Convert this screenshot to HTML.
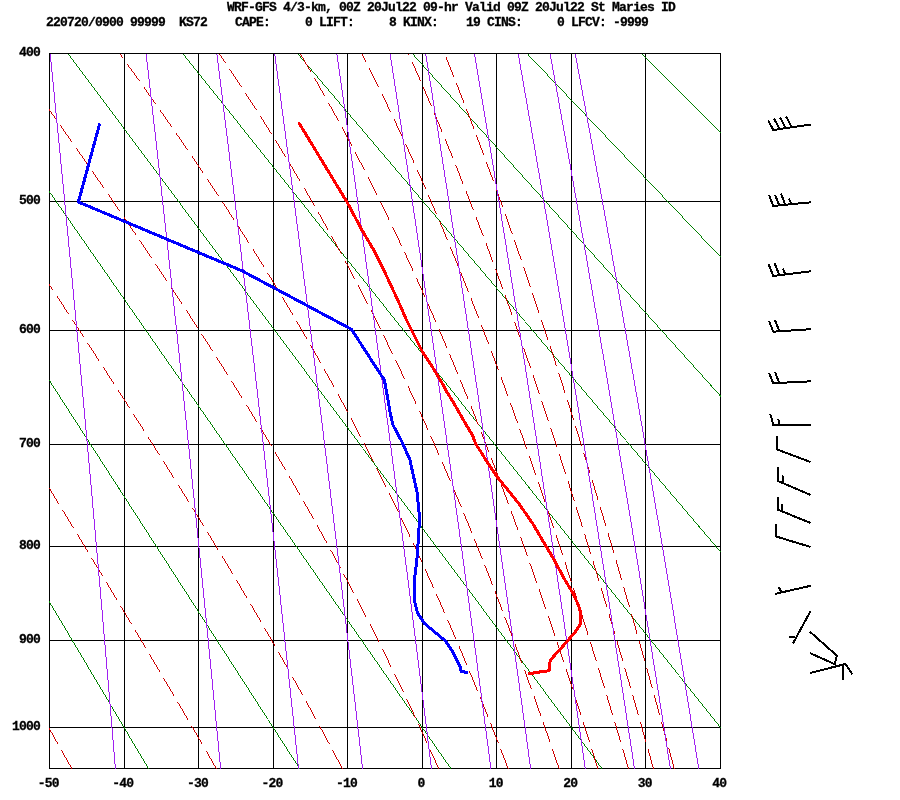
<!DOCTYPE html><html><head><meta charset="utf-8"><style>html,body{margin:0;padding:0;background:#fff;}svg{display:block;will-change:transform}</style></head><body><svg width="900" height="800" viewBox="0 0 900 800"><defs><clipPath id="c"><rect x="49" y="53" width="672" height="716"/></clipPath></defs><rect x="49.5" y="53.5" width="671" height="715" fill="none" stroke="#000" shape-rendering="crispEdges"/><g clip-path="url(#c)" fill="none" shape-rendering="crispEdges" stroke-width="1"><path stroke="#000" d="M124.5,53.5 V768.5 M198.5,53.5 V768.5 M273.5,53.5 V768.5 M347.5,53.5 V768.5 M422.5,53.5 V768.5 M496.5,53.5 V768.5 M571.5,53.5 V768.5 M645.5,53.5 V768.5 M49.5,201.5 H720.5 M49.5,330.5 H720.5 M49.5,444.5 H720.5 M49.5,546.5 H720.5 M49.5,640.5 H720.5 M49.5,727.5 H720.5"/><path fill="#008000" stroke="none" d="M-3.25,768.58 L-391.57,53.5 L-390.57,53.5 L-2.25,768.58Z M147.96,768.58 L-276.81,53.5 L-275.81,53.5 L148.96,768.58Z M299.16,768.58 L-162.04,53.5 L-161.04,53.5 L300.16,768.58Z M450.36,768.58 L-47.27,53.5 L-46.27,53.5 L451.36,768.58Z M601.57,768.58 L67.5,53.5 L68.5,53.5 L602.57,768.58Z M752.77,768.58 L182.26,53.5 L183.26,53.5 L753.77,768.58Z M903.98,768.58 L297.03,53.5 L298.03,53.5 L904.98,768.58Z M1055.18,768.58 L411.8,53.5 L412.8,53.5 L1056.18,768.58Z M1206.38,768.58 L526.57,53.5 L527.57,53.5 L1207.38,768.58Z M1358.09,768.08 L641.83,53 L641.83,54 L1358.09,769.08Z M1509.29,768.08 L756.6,53 L756.6,54 L1509.29,769.08Z"/><path fill="#cd0000" stroke="none" d="M71.25,768.58 L69.21,764.95 L67.18,761.32 L65.14,757.69 L63.1,754.06 L61.07,750.44 L62.07,750.44 L64.1,754.06 L66.14,757.69 L68.18,761.32 L70.21,764.95 L72.25,768.58Z M57.57,744.2 L55.53,740.58 L53.49,736.95 L51.45,733.32 L49.41,729.7 L47.37,726.07 L48.37,726.07 L50.41,729.7 L52.45,733.32 L54.49,736.95 L56.53,740.58 L58.57,744.2Z M215.76,768.58 L213.69,764.97 L211.61,761.36 L209.54,757.76 L207.46,754.15 L205.38,750.55 L206.38,750.55 L208.46,754.15 L210.54,757.76 L212.61,761.36 L214.69,764.97 L216.76,768.58Z M201.81,744.36 L199.72,740.76 L197.63,737.16 L195.55,733.56 L193.46,729.96 L191.36,726.37 L192.36,726.37 L194.46,729.96 L196.55,733.56 L198.63,737.16 L200.72,740.76 L202.81,744.36Z M187.77,720.19 L185.67,716.6 L183.57,713.01 L181.47,709.41 L179.37,705.82 L177.27,702.24 L178.27,702.24 L180.37,705.82 L182.47,709.41 L184.57,713.01 L186.67,716.6 L188.77,720.19Z M173.65,696.07 L171.54,692.48 L169.43,688.9 L167.32,685.31 L165.2,681.73 L163.09,678.15 L164.09,678.15 L166.2,681.73 L168.32,685.31 L170.43,688.9 L172.54,692.48 L174.65,696.07Z M159.45,671.99 L157.34,668.41 L155.22,664.83 L153.09,661.25 L150.97,657.67 L148.85,654.1 L149.85,654.1 L151.97,657.67 L154.09,661.25 L156.22,664.83 L158.34,668.41 L160.45,671.99Z M145.2,647.95 L143.07,644.38 L140.94,640.8 L138.81,637.23 L136.68,633.66 L134.55,630.08 L135.55,630.08 L137.68,633.66 L139.81,637.23 L141.94,640.8 L144.07,644.38 L146.2,647.95Z M130.88,623.95 L128.74,620.38 L126.61,616.81 L124.47,613.24 L122.33,609.67 L120.19,606.1 L121.19,606.1 L123.33,609.67 L125.47,613.24 L127.61,616.81 L129.74,620.38 L131.88,623.95Z M116.51,599.97 L114.36,596.41 L112.22,592.84 L110.07,589.28 L107.93,585.72 L105.78,582.15 L106.78,582.15 L108.93,585.72 L111.07,589.28 L113.22,592.84 L115.36,596.41 L117.51,599.97Z M102.09,576.03 L99.94,572.47 L97.79,568.91 L95.64,565.35 L93.48,561.79 L91.33,558.23 L92.33,558.23 L94.48,561.79 L96.64,565.35 L98.79,568.91 L100.94,572.47 L103.09,576.03Z M87.63,552.11 L85.47,548.55 L83.32,545 L81.16,541.44 L79,537.88 L76.84,534.33 L77.84,534.33 L80,537.88 L82.16,541.44 L84.32,545 L86.47,548.55 L88.63,552.11Z M73.13,528.22 L70.97,524.66 L68.81,521.11 L66.65,517.55 L64.48,514 L62.32,510.45 L63.32,510.45 L65.48,514 L67.65,517.55 L69.81,521.11 L71.97,524.66 L74.13,528.22Z M58.6,504.34 L56.43,500.79 L54.27,497.24 L52.1,493.68 L49.93,490.13 L47.77,486.58 L48.77,486.58 L50.93,490.13 L53.1,493.68 L55.27,497.24 L57.43,500.79 L59.6,504.34Z M341.8,768.58 L339.87,764.89 L337.93,761.21 L335.98,757.54 L334.03,753.86 L332.08,750.19 L333.08,750.19 L335.03,753.86 L336.98,757.54 L338.93,761.21 L340.87,764.89 L342.8,768.58Z M328.71,743.88 L326.75,740.21 L324.78,736.55 L322.81,732.89 L320.83,729.23 L318.85,725.57 L319.85,725.57 L321.83,729.23 L323.81,732.89 L325.78,736.55 L327.75,740.21 L329.71,743.88Z M315.43,719.29 L313.44,715.64 L311.44,711.99 L309.44,708.34 L307.44,704.69 L305.43,701.05 L306.43,701.05 L308.44,704.69 L310.44,708.34 L312.44,711.99 L314.44,715.64 L316.43,719.29Z M301.97,694.8 L299.95,691.16 L297.92,687.52 L295.9,683.89 L293.87,680.26 L291.83,676.63 L292.83,676.63 L294.87,680.26 L296.9,683.89 L298.92,687.52 L300.95,691.16 L302.97,694.8Z M288.32,670.4 L286.28,666.78 L284.23,663.16 L282.17,659.54 L280.12,655.93 L278.06,652.31 L279.06,652.31 L281.12,655.93 L283.17,659.54 L285.23,663.16 L287.28,666.78 L289.32,670.4Z M274.51,646.11 L272.44,642.5 L270.36,638.89 L268.28,635.29 L266.2,631.69 L264.12,628.09 L265.12,628.09 L267.2,631.69 L269.28,635.29 L271.36,638.89 L273.44,642.5 L275.51,646.11Z M260.52,621.91 L258.43,618.31 L256.33,614.72 L254.23,611.13 L252.13,607.54 L250.02,603.95 L251.02,603.95 L253.13,607.54 L255.23,611.13 L257.33,614.72 L259.43,618.31 L261.52,621.91Z M246.39,597.79 L244.27,594.21 L242.15,590.63 L240.03,587.06 L237.9,583.48 L235.77,579.91 L236.77,579.91 L238.9,583.48 L241.03,587.06 L243.15,590.63 L245.27,594.21 L247.39,597.79Z M232.1,573.77 L229.97,570.2 L227.82,566.63 L225.68,563.07 L223.53,559.51 L221.38,555.94 L222.38,555.94 L224.53,559.51 L226.68,563.07 L228.82,566.63 L230.97,570.2 L233.1,573.77Z M217.68,549.83 L215.52,546.27 L213.36,542.72 L211.2,539.16 L209.04,535.61 L206.87,532.06 L207.87,532.06 L210.04,535.61 L212.2,539.16 L214.36,542.72 L216.52,546.27 L218.68,549.83Z M203.13,525.96 L200.96,522.42 L198.78,518.87 L196.6,515.33 L194.41,511.79 L192.23,508.25 L193.23,508.25 L195.41,511.79 L197.6,515.33 L199.78,518.87 L201.96,522.42 L204.13,525.96Z M188.47,502.17 L186.27,498.64 L184.08,495.1 L181.88,491.57 L179.68,488.04 L177.48,484.51 L178.48,484.51 L180.68,488.04 L182.88,491.57 L185.08,495.1 L187.27,498.64 L189.47,502.17Z M173.69,478.45 L171.48,474.92 L169.27,471.4 L167.06,467.87 L164.85,464.35 L162.63,460.83 L163.63,460.83 L165.85,464.35 L168.06,467.87 L170.27,471.4 L172.48,474.92 L174.69,478.45Z M158.82,454.78 L156.59,451.26 L154.37,447.75 L152.15,444.23 L149.92,440.72 L147.69,437.21 L148.69,437.21 L150.92,440.72 L153.15,444.23 L155.37,447.75 L157.59,451.26 L159.82,454.78Z M143.85,431.17 L141.62,427.67 L139.38,424.16 L137.14,420.65 L134.9,417.15 L132.66,413.64 L133.66,413.64 L135.9,417.15 L138.14,420.65 L140.38,424.16 L142.62,427.67 L144.85,431.17Z M128.81,407.62 L126.56,404.12 L124.32,400.62 L122.07,397.12 L119.82,393.62 L117.57,390.12 L118.57,390.12 L120.82,393.62 L123.07,397.12 L125.32,400.62 L127.56,404.12 L129.81,407.62Z M113.69,384.11 L111.44,380.61 L109.18,377.12 L106.92,373.63 L104.66,370.13 L102.4,366.64 L103.4,366.64 L105.66,370.13 L107.92,373.63 L110.18,377.12 L112.44,380.61 L114.69,384.11Z M98.51,360.64 L96.25,357.15 L93.98,353.66 L91.71,350.17 L89.45,346.69 L87.18,343.2 L88.18,343.2 L90.45,346.69 L92.71,350.17 L94.98,353.66 L97.25,357.15 L99.51,360.64Z M83.27,337.21 L81,333.73 L78.73,330.24 L76.45,326.76 L74.18,323.28 L71.9,319.79 L72.9,319.79 L75.18,323.28 L77.45,326.76 L79.73,330.24 L82,333.73 L84.27,337.21Z M67.99,313.81 L65.71,310.33 L63.43,306.85 L61.15,303.37 L58.87,299.89 L56.58,296.42 L57.58,296.42 L59.87,299.89 L62.15,303.37 L64.43,306.85 L66.71,310.33 L68.99,313.81Z M52.66,290.44 L50.37,286.96 L48.09,283.49 L45.8,280.01 L43.51,276.54 L41.22,273.06 L42.22,273.06 L44.51,276.54 L46.8,280.01 L49.09,283.49 L51.37,286.96 L53.66,290.44Z M438.19,768.58 L436.49,764.78 L434.79,760.98 L433.09,757.19 L431.37,753.4 L429.66,749.61 L430.66,749.61 L432.37,753.4 L434.09,757.19 L435.79,760.98 L437.49,764.78 L439.19,768.58Z M426.69,743.1 L424.96,739.32 L423.23,735.54 L421.49,731.76 L419.75,727.98 L418,724.21 L419,724.21 L420.75,727.98 L422.49,731.76 L424.23,735.54 L425.96,739.32 L427.69,743.1Z M414.98,717.73 L413.21,713.96 L411.45,710.19 L409.67,706.43 L407.89,702.67 L406.11,698.91 L407.11,698.91 L408.89,702.67 L410.67,706.43 L412.45,710.19 L414.21,713.96 L415.98,717.73Z M403.04,692.46 L401.24,688.7 L399.44,684.95 L397.63,681.21 L395.82,677.46 L394,673.72 L395,673.72 L396.82,677.46 L398.63,681.21 L400.44,684.95 L402.24,688.7 L404.04,692.46Z M390.86,667.29 L389.03,663.56 L387.2,659.83 L385.36,656.1 L383.51,652.37 L381.66,648.64 L382.66,648.64 L384.51,652.37 L386.36,656.1 L388.2,659.83 L390.03,663.56 L391.86,667.29Z M378.46,642.25 L376.6,638.53 L374.73,634.81 L372.85,631.1 L370.97,627.39 L369.08,623.68 L370.08,623.68 L371.97,627.39 L373.85,631.1 L375.73,634.81 L377.6,638.53 L379.46,642.25Z M365.83,617.32 L363.93,613.61 L362.02,609.92 L360.11,606.22 L358.2,602.53 L356.28,598.84 L357.28,598.84 L359.2,602.53 L361.11,606.22 L363.02,609.92 L364.93,613.61 L366.83,617.32Z M352.96,592.5 L351.03,588.82 L349.09,585.14 L347.14,581.46 L345.19,577.79 L343.23,574.12 L344.23,574.12 L346.19,577.79 L348.14,581.46 L350.09,585.14 L352.03,588.82 L353.96,592.5Z M339.86,567.81 L337.89,564.15 L335.92,560.49 L333.94,556.83 L331.95,553.17 L329.96,549.52 L330.96,549.52 L332.95,553.17 L334.94,556.83 L336.92,560.49 L338.89,564.15 L340.86,567.81Z M326.53,543.25 L324.52,539.6 L322.51,535.96 L320.5,532.32 L318.48,528.68 L316.46,525.05 L317.46,525.05 L319.48,528.68 L321.5,532.32 L323.51,535.96 L325.52,539.6 L327.53,543.25Z M312.97,518.81 L310.93,515.18 L308.89,511.56 L306.84,507.94 L304.79,504.32 L302.73,500.7 L303.73,500.7 L305.79,504.32 L307.84,507.94 L309.89,511.56 L311.93,515.18 L313.97,518.81Z M299.18,494.5 L297.11,490.89 L295.04,487.28 L292.96,483.68 L290.87,480.08 L288.78,476.48 L289.78,476.48 L291.87,480.08 L293.96,483.68 L296.04,487.28 L298.11,490.89 L300.18,494.5Z M285.18,470.31 L283.08,466.72 L280.97,463.13 L278.86,459.54 L276.74,455.96 L274.62,452.38 L275.62,452.38 L277.74,455.96 L279.86,459.54 L281.97,463.13 L284.08,466.72 L286.18,470.31Z M270.97,446.24 L268.83,442.67 L266.7,439.1 L264.55,435.53 L262.41,431.97 L260.26,428.41 L261.26,428.41 L263.41,431.97 L265.55,435.53 L267.7,439.1 L269.83,442.67 L271.97,446.24Z M256.55,422.29 L254.39,418.74 L252.22,415.19 L250.05,411.64 L247.88,408.09 L245.7,404.55 L246.7,404.55 L248.88,408.09 L251.05,411.64 L253.22,415.19 L255.39,418.74 L257.55,422.29Z M241.94,398.47 L239.75,394.93 L237.56,391.4 L235.36,387.86 L233.16,384.33 L230.95,380.81 L231.95,380.81 L234.16,384.33 L236.36,387.86 L238.56,391.4 L240.75,394.93 L242.94,398.47Z M227.15,374.75 L224.93,371.23 L222.71,367.71 L220.49,364.2 L218.26,360.68 L216.03,357.17 L217.03,357.17 L219.26,360.68 L221.49,364.2 L223.71,367.71 L225.93,371.23 L228.15,374.75Z M212.19,351.14 L209.95,347.64 L207.7,344.14 L205.45,340.64 L203.2,337.14 L200.95,333.64 L201.95,333.64 L204.2,337.14 L206.45,340.64 L208.7,344.14 L210.95,347.64 L213.19,351.14Z M197.06,327.64 L194.8,324.15 L192.53,320.66 L190.26,317.18 L187.99,313.69 L185.71,310.21 L186.71,310.21 L188.99,313.69 L191.26,317.18 L193.53,320.66 L195.8,324.15 L198.06,327.64Z M181.79,304.23 L179.51,300.75 L177.22,297.28 L174.93,293.81 L172.63,290.34 L170.34,286.87 L171.34,286.87 L173.63,290.34 L175.93,293.81 L178.22,297.28 L180.51,300.75 L182.79,304.23Z M166.38,280.91 L164.08,277.45 L161.77,273.98 L159.46,270.52 L157.15,267.07 L154.84,263.61 L155.84,263.61 L158.15,267.07 L160.46,270.52 L162.77,273.98 L165.08,277.45 L167.38,280.91Z M150.85,257.67 L148.53,254.22 L146.21,250.77 L143.88,247.32 L141.55,243.87 L139.22,240.43 L140.22,240.43 L142.55,243.87 L144.88,247.32 L147.21,250.77 L149.53,254.22 L151.85,257.67Z M135.21,234.51 L132.88,231.07 L130.54,227.63 L128.2,224.19 L125.85,220.75 L123.51,217.32 L124.51,217.32 L126.85,220.75 L129.2,224.19 L131.54,227.63 L133.88,231.07 L136.21,234.51Z M119.47,211.41 L117.12,207.98 L114.77,204.55 L112.41,201.12 L110.06,197.69 L107.7,194.27 L108.7,194.27 L111.06,197.69 L113.41,201.12 L115.77,204.55 L118.12,207.98 L120.47,211.41Z M103.64,188.38 L101.28,184.96 L98.91,181.53 L96.54,178.11 L94.18,174.69 L91.81,171.27 L92.81,171.27 L95.18,174.69 L97.54,178.11 L99.91,181.53 L102.28,184.96 L104.64,188.38Z M87.73,165.4 L85.36,161.98 L82.98,158.57 L80.6,155.15 L78.22,151.74 L75.84,148.33 L76.84,148.33 L79.22,151.74 L81.6,155.15 L83.98,158.57 L86.36,161.98 L88.73,165.4Z M71.75,142.47 L69.37,139.06 L66.98,135.65 L64.6,132.24 L62.21,128.83 L59.82,125.43 L60.82,125.43 L63.21,128.83 L65.6,132.24 L67.98,135.65 L70.37,139.06 L72.75,142.47Z M55.71,119.58 L53.32,116.17 L50.93,112.77 L48.53,109.37 L46.14,105.97 L43.74,102.57 L44.74,102.57 L47.14,105.97 L49.53,109.37 L51.93,112.77 L54.32,116.17 L56.71,119.58Z M507.67,768.58 L506.19,764.69 L504.69,760.81 L503.2,756.93 L501.7,753.05 L500.2,749.17 L501.2,749.17 L502.7,753.05 L504.2,756.93 L505.69,760.81 L507.19,764.69 L508.67,768.58Z M497.6,742.5 L496.09,738.63 L494.57,734.76 L493.05,730.89 L491.52,727.02 L489.99,723.15 L490.99,723.15 L492.52,727.02 L494.05,730.89 L495.57,734.76 L497.09,738.63 L498.6,742.5Z M487.35,716.5 L485.8,712.64 L484.26,708.78 L482.71,704.92 L481.15,701.06 L479.59,697.2 L480.59,697.2 L482.15,701.06 L483.71,704.92 L485.26,708.78 L486.8,712.64 L488.35,716.5Z M476.9,690.58 L475.33,686.73 L473.75,682.88 L472.17,679.03 L470.58,675.19 L468.99,671.34 L469.99,671.34 L471.58,675.19 L473.17,679.03 L474.75,682.88 L476.33,686.73 L477.9,690.58Z M466.25,664.74 L464.65,660.9 L463.04,657.06 L461.43,653.23 L459.81,649.4 L458.19,645.56 L459.19,645.56 L460.81,649.4 L462.43,653.23 L464.04,657.06 L465.65,660.9 L467.25,664.74Z M455.39,638.98 L453.75,635.16 L452.12,631.34 L450.47,627.51 L448.82,623.7 L447.17,619.88 L448.17,619.88 L449.82,623.7 L451.47,627.51 L453.12,631.34 L454.75,635.16 L456.39,638.98Z M444.31,613.32 L442.65,609.51 L440.97,605.7 L439.3,601.9 L437.61,598.09 L435.93,594.29 L436.93,594.29 L438.61,598.09 L440.3,601.9 L441.97,605.7 L443.65,609.51 L445.31,613.32Z M433.02,587.76 L431.31,583.96 L429.61,580.17 L427.9,576.38 L426.18,572.59 L424.46,568.8 L425.46,568.8 L427.18,572.59 L428.9,576.38 L430.61,580.17 L432.31,583.96 L434.02,587.76Z M421.48,562.3 L419.75,558.52 L418.01,554.74 L416.26,550.96 L414.51,547.19 L412.75,543.42 L413.75,543.42 L415.51,547.19 L417.26,550.96 L419.01,554.74 L420.75,558.52 L422.48,562.3Z M409.72,536.95 L407.94,533.18 L406.17,529.42 L404.38,525.66 L402.59,521.91 L400.8,518.15 L401.8,518.15 L403.59,521.91 L405.38,525.66 L407.17,529.42 L408.94,533.18 L410.72,536.95Z M397.7,511.71 L395.89,507.96 L394.08,504.22 L392.26,500.48 L390.43,496.74 L388.6,493.01 L389.6,493.01 L391.43,496.74 L393.26,500.48 L395.08,504.22 L396.89,507.96 L398.7,511.71Z M385.44,486.59 L383.59,482.87 L381.74,479.14 L379.88,475.42 L378.01,471.7 L376.14,467.99 L377.14,467.99 L379.01,471.7 L380.88,475.42 L382.74,479.14 L384.59,482.87 L386.44,486.59Z M372.92,461.61 L371.03,457.9 L369.14,454.19 L367.24,450.49 L365.34,446.79 L363.43,443.1 L364.43,443.1 L366.34,446.79 L368.24,450.49 L370.14,454.19 L372.03,457.9 L373.92,461.61Z M360.14,436.75 L358.21,433.06 L356.28,429.38 L354.34,425.7 L352.4,422.02 L350.45,418.34 L351.45,418.34 L353.4,422.02 L355.34,425.7 L357.28,429.38 L359.21,433.06 L361.14,436.75Z M347.09,412.03 L345.13,408.36 L343.16,404.7 L341.18,401.04 L339.2,397.38 L337.21,393.73 L338.21,393.73 L340.2,397.38 L342.18,401.04 L344.16,404.7 L346.13,408.36 L348.09,412.03Z M333.78,387.45 L331.78,383.81 L329.77,380.16 L327.75,376.53 L325.73,372.89 L323.71,369.26 L324.71,369.26 L326.73,372.89 L328.75,376.53 L330.77,380.16 L332.78,383.81 L334.78,387.45Z M320.21,363.02 L318.17,359.4 L316.12,355.78 L314.06,352.16 L312,348.54 L309.94,344.93 L310.94,344.93 L313,348.54 L315.06,352.16 L317.12,355.78 L319.17,359.4 L321.21,363.02Z M306.37,338.74 L304.29,335.13 L302.2,331.54 L300.11,327.94 L298.01,324.35 L295.91,320.76 L296.91,320.76 L299.01,324.35 L301.11,327.94 L303.2,331.54 L305.29,335.13 L307.37,338.74Z M292.27,314.6 L290.15,311.02 L288.03,307.45 L285.9,303.87 L283.76,300.3 L281.62,296.74 L282.62,296.74 L284.76,300.3 L286.9,303.87 L289.03,307.45 L291.15,311.02 L293.27,314.6Z M277.92,290.62 L275.77,287.06 L273.6,283.51 L271.43,279.96 L269.26,276.41 L267.08,272.87 L268.08,272.87 L270.26,276.41 L272.43,279.96 L274.6,283.51 L276.77,287.06 L278.92,290.62Z M263.32,266.78 L261.13,263.25 L258.93,259.72 L256.73,256.19 L254.52,252.67 L252.3,249.14 L253.3,249.14 L255.52,252.67 L257.73,256.19 L259.93,259.72 L262.13,263.25 L264.32,266.78Z M248.48,243.1 L246.25,239.59 L244.02,236.08 L241.78,232.57 L239.54,229.07 L237.29,225.57 L238.29,225.57 L240.54,229.07 L242.78,232.57 L245.02,236.08 L247.25,239.59 L249.48,243.1Z M233.41,219.56 L231.15,216.07 L228.89,212.58 L226.62,209.09 L224.34,205.61 L222.06,202.13 L223.06,202.13 L225.34,205.61 L227.62,209.09 L229.89,212.58 L232.15,216.07 L234.41,219.56Z M218.13,196.16 L215.84,192.69 L213.54,189.22 L211.24,185.76 L208.93,182.29 L206.62,178.83 L207.62,178.83 L209.93,182.29 L212.24,185.76 L214.54,189.22 L216.84,192.69 L219.13,196.16Z M202.64,172.89 L200.32,169.44 L197.99,165.99 L195.66,162.55 L193.33,159.11 L190.99,155.66 L191.99,155.66 L194.33,159.11 L196.66,162.55 L198.99,165.99 L201.32,169.44 L203.64,172.89Z M186.96,149.76 L184.61,146.32 L182.26,142.89 L179.9,139.47 L177.54,136.04 L175.17,132.62 L176.17,132.62 L178.54,136.04 L180.9,139.47 L183.26,142.89 L185.61,146.32 L187.96,149.76Z M171.1,126.74 L168.73,123.33 L166.35,119.91 L163.97,116.5 L161.58,113.09 L159.2,109.69 L160.2,109.69 L162.58,113.09 L164.97,116.5 L167.35,119.91 L169.73,123.33 L172.1,126.74Z M155.08,103.84 L152.69,100.44 L150.29,97.04 L147.88,93.64 L145.48,90.25 L143.07,86.86 L144.07,86.86 L146.48,90.25 L148.88,93.64 L151.29,97.04 L153.69,100.44 L156.08,103.84Z M138.92,81.04 L136.5,77.65 L134.08,74.27 L131.66,70.88 L129.23,67.51 L126.8,64.13 L127.8,64.13 L130.23,67.51 L132.66,70.88 L135.08,74.27 L137.5,77.65 L139.92,81.04Z M122.62,58.33 L119.13,53.5 L120.13,53.5 L123.62,58.33Z M558.58,768.58 L557.24,764.64 L555.9,760.7 L554.55,756.76 L553.21,752.83 L551.85,748.89 L552.85,748.89 L554.21,752.83 L555.55,756.76 L556.9,760.7 L558.24,764.64 L559.58,768.58Z M549.52,742.13 L548.16,738.2 L546.8,734.27 L545.43,730.34 L544.06,726.42 L542.69,722.49 L543.69,722.49 L545.06,726.42 L546.43,730.34 L547.8,734.27 L549.16,738.2 L550.52,742.13Z M540.32,715.74 L538.94,711.82 L537.56,707.9 L536.17,703.97 L534.78,700.05 L533.38,696.13 L534.38,696.13 L535.78,700.05 L537.17,703.97 L538.56,707.9 L539.94,711.82 L541.32,715.74Z M530.97,689.4 L529.57,685.49 L528.16,681.57 L526.75,677.66 L525.33,673.75 L523.91,669.84 L524.91,669.84 L526.33,673.75 L527.75,677.66 L529.16,681.57 L530.57,685.49 L531.97,689.4Z M521.46,663.12 L520.03,659.21 L518.6,655.31 L517.17,651.4 L515.72,647.5 L514.28,643.6 L515.28,643.6 L516.72,647.5 L518.17,651.4 L519.6,655.31 L521.03,659.21 L522.46,663.12Z M511.79,636.9 L510.33,633 L508.88,629.1 L507.41,625.21 L505.95,621.32 L504.48,617.43 L505.48,617.43 L506.95,621.32 L508.41,625.21 L509.88,629.1 L511.33,633 L512.79,636.9Z M501.94,610.74 L500.46,606.85 L498.98,602.97 L497.49,599.08 L495.99,595.2 L494.5,591.32 L495.5,591.32 L496.99,595.2 L498.49,599.08 L499.98,602.97 L501.46,606.85 L502.94,610.74Z M491.91,584.65 L490.4,580.77 L488.89,576.9 L487.37,573.03 L485.85,569.15 L484.33,565.28 L485.33,565.28 L486.85,569.15 L488.37,573.03 L489.89,576.9 L491.4,580.77 L492.91,584.65Z M481.69,558.64 L480.16,554.77 L478.62,550.91 L477.07,547.05 L475.52,543.19 L473.96,539.33 L474.96,539.33 L476.52,543.19 L478.07,547.05 L479.62,550.91 L481.16,554.77 L482.69,558.64Z M471.28,532.7 L469.71,528.85 L468.14,524.99 L466.56,521.15 L464.98,517.3 L463.39,513.45 L464.39,513.45 L465.98,517.3 L467.56,521.15 L469.14,524.99 L470.71,528.85 L472.28,532.7Z M460.66,506.85 L459.06,503.01 L457.45,499.17 L455.84,495.33 L454.23,491.5 L452.61,487.67 L453.61,487.67 L455.23,491.5 L456.84,495.33 L458.45,499.17 L460.06,503.01 L461.66,506.85Z M449.82,481.08 L448.18,477.26 L446.55,473.43 L444.91,469.61 L443.26,465.79 L441.61,461.97 L442.61,461.97 L444.26,465.79 L445.91,469.61 L447.55,473.43 L449.18,477.26 L450.82,481.08Z M438.75,455.42 L437.09,451.61 L435.42,447.8 L433.74,443.99 L432.06,440.18 L430.37,436.38 L431.37,436.38 L433.06,440.18 L434.74,443.99 L436.42,447.8 L438.09,451.61 L439.75,455.42Z M427.46,429.85 L425.75,426.06 L424.05,422.26 L422.33,418.47 L420.61,414.68 L418.89,410.9 L419.89,410.9 L421.61,414.68 L423.33,418.47 L425.05,422.26 L426.75,426.06 L428.46,429.85Z M415.91,404.4 L414.18,400.62 L412.43,396.84 L410.68,393.07 L408.92,389.3 L407.16,385.53 L408.16,385.53 L409.92,389.3 L411.68,393.07 L413.43,396.84 L415.18,400.62 L416.91,404.4Z M404.12,379.06 L402.34,375.3 L400.56,371.54 L398.77,367.78 L396.98,364.03 L395.17,360.28 L396.17,360.28 L397.98,364.03 L399.77,367.78 L401.56,371.54 L403.34,375.3 L405.12,379.06Z M392.06,353.84 L390.25,350.1 L388.42,346.36 L386.6,342.62 L384.76,338.89 L382.92,335.16 L383.92,335.16 L385.76,338.89 L387.6,342.62 L389.42,346.36 L391.25,350.1 L393.06,353.84Z M379.74,328.76 L377.88,325.03 L376.02,321.31 L374.15,317.6 L372.27,313.89 L370.39,310.18 L371.39,310.18 L373.27,313.89 L375.15,317.6 L377.02,321.31 L378.88,325.03 L380.74,328.76Z M367.14,303.81 L365.24,300.11 L363.33,296.41 L361.42,292.72 L359.5,289.02 L357.57,285.34 L358.57,285.34 L360.5,289.02 L362.42,292.72 L364.33,296.41 L366.24,300.11 L368.14,303.81Z M354.25,279.01 L352.31,275.33 L350.36,271.65 L348.4,267.98 L346.44,264.31 L344.47,260.65 L345.47,260.65 L347.44,264.31 L349.4,267.98 L351.36,271.65 L353.31,275.33 L355.25,279.01Z M341.07,254.36 L339.09,250.7 L337.09,247.05 L335.1,243.4 L333.09,239.76 L331.08,236.12 L332.08,236.12 L334.09,239.76 L336.1,243.4 L338.09,247.05 L340.09,250.7 L342.07,254.36Z M327.6,229.87 L325.57,226.24 L323.54,222.61 L321.49,218.99 L319.44,215.37 L317.39,211.75 L318.39,211.75 L320.44,215.37 L322.49,218.99 L324.54,222.61 L326.57,226.24 L328.6,229.87Z M313.84,205.54 L311.76,201.94 L309.68,198.34 L307.59,194.74 L305.5,191.14 L303.4,187.55 L304.4,187.55 L306.5,191.14 L308.59,194.74 L310.68,198.34 L312.76,201.94 L314.84,205.54Z M299.77,181.39 L297.66,177.81 L295.53,174.23 L293.4,170.66 L291.26,167.09 L289.12,163.53 L290.12,163.53 L292.26,167.09 L294.4,170.66 L296.53,174.23 L298.66,177.81 L300.77,181.39Z M285.42,157.41 L283.25,153.85 L281.09,150.3 L278.91,146.76 L276.73,143.22 L274.54,139.68 L275.54,139.68 L277.73,143.22 L279.91,146.76 L282.09,150.3 L284.25,153.85 L286.42,157.41Z M270.77,133.61 L268.56,130.08 L266.35,126.55 L264.13,123.03 L261.91,119.52 L259.68,116.01 L260.68,116.01 L262.91,119.52 L265.13,123.03 L267.35,126.55 L269.56,130.08 L271.77,133.61Z M255.83,109.98 L253.59,106.48 L251.33,102.98 L249.08,99.49 L246.81,96 L244.54,92.51 L245.54,92.51 L247.81,96 L250.08,99.49 L252.33,102.98 L254.59,106.48 L256.83,109.98Z M240.62,86.53 L238.34,83.06 L236.04,79.58 L233.75,76.12 L231.44,72.65 L229.13,69.19 L230.13,69.19 L232.44,72.65 L234.75,76.12 L237.04,79.58 L239.34,83.06 L241.62,86.53Z M225.15,63.26 L221.85,58.37 L218.55,53.5 L219.55,53.5 L222.85,58.37 L226.15,63.26Z M597.35,768.58 L596.11,764.61 L594.87,760.63 L593.63,756.66 L592.38,752.69 L591.13,748.73 L592.13,748.73 L593.38,752.69 L594.63,756.66 L595.87,760.63 L597.11,764.61 L598.35,768.58Z M588.98,741.91 L587.73,737.94 L586.47,733.97 L585.21,730.01 L583.95,726.05 L582.69,722.08 L583.69,722.08 L584.95,726.05 L586.21,730.01 L587.47,733.97 L588.73,737.94 L589.98,741.91Z M580.51,715.27 L579.24,711.31 L577.96,707.35 L576.68,703.39 L575.4,699.43 L574.12,695.48 L575.12,695.48 L576.4,699.43 L577.68,703.39 L578.96,707.35 L580.24,711.31 L581.51,715.27Z M571.91,688.68 L570.62,684.72 L569.33,680.77 L568.03,676.82 L566.74,672.86 L565.43,668.91 L566.43,668.91 L567.74,672.86 L569.03,676.82 L570.33,680.77 L571.62,684.72 L572.91,688.68Z M563.19,662.12 L561.88,658.17 L560.57,654.23 L559.26,650.28 L557.94,646.33 L556.62,642.39 L557.62,642.39 L558.94,646.33 L560.26,650.28 L561.57,654.23 L562.88,658.17 L564.19,662.12Z M554.34,635.61 L553.01,631.67 L551.68,627.73 L550.35,623.79 L549.01,619.85 L547.67,615.91 L548.67,615.91 L550.01,619.85 L551.35,623.79 L552.68,627.73 L554.01,631.67 L555.34,635.61Z M545.36,609.14 L544.01,605.21 L542.65,601.28 L541.3,597.34 L539.94,593.41 L538.58,589.48 L539.58,589.48 L540.94,593.41 L542.3,597.34 L543.65,601.28 L545.01,605.21 L546.36,609.14Z M536.23,582.73 L534.86,578.8 L533.48,574.87 L532.1,570.95 L530.72,567.02 L529.34,563.1 L530.34,563.1 L531.72,567.02 L533.1,570.95 L534.48,574.87 L535.86,578.8 L537.23,582.73Z M526.95,556.36 L525.56,552.44 L524.16,548.52 L522.76,544.61 L521.35,540.69 L519.95,536.78 L520.95,536.78 L522.35,540.69 L523.76,544.61 L525.16,548.52 L526.56,552.44 L527.95,556.36Z M517.52,530.05 L516.1,526.14 L514.68,522.23 L513.25,518.32 L511.82,514.42 L510.39,510.51 L511.39,510.51 L512.82,514.42 L514.25,518.32 L515.68,522.23 L517.1,526.14 L518.52,530.05Z M507.92,503.8 L506.48,499.9 L505.03,496 L503.58,492.1 L502.12,488.2 L500.67,484.31 L501.67,484.31 L503.12,488.2 L504.58,492.1 L506.03,496 L507.48,499.9 L508.92,503.8Z M498.15,477.62 L496.68,473.72 L495.21,469.83 L493.73,465.94 L492.25,462.06 L490.76,458.17 L491.76,458.17 L493.25,462.06 L494.73,465.94 L496.21,469.83 L497.68,473.72 L499.15,477.62Z M488.2,451.5 L486.7,447.61 L485.2,443.74 L483.7,439.86 L482.19,435.98 L480.67,432.11 L481.67,432.11 L483.19,435.98 L484.7,439.86 L486.2,443.74 L487.7,447.61 L489.2,451.5Z M478.06,425.45 L476.53,421.58 L475,417.71 L473.47,413.85 L471.93,409.98 L470.39,406.12 L471.39,406.12 L472.93,409.98 L474.47,413.85 L476,417.71 L477.53,421.58 L479.06,425.45Z M467.72,399.48 L466.17,395.62 L464.61,391.77 L463.04,387.91 L461.47,384.06 L459.9,380.21 L460.9,380.21 L462.47,384.06 L464.04,387.91 L465.61,391.77 L467.17,395.62 L468.72,399.48Z M457.18,373.6 L455.59,369.75 L454,365.91 L452.4,362.07 L450.8,358.23 L449.19,354.39 L450.19,354.39 L451.8,358.23 L453.4,362.07 L455,365.91 L456.59,369.75 L458.18,373.6Z M446.41,347.8 L444.79,343.97 L443.17,340.14 L441.53,336.32 L439.9,332.49 L438.26,328.67 L439.26,328.67 L440.9,332.49 L442.53,336.32 L444.17,340.14 L445.79,343.97 L447.41,347.8Z M435.42,322.11 L433.76,318.29 L432.1,314.48 L430.44,310.67 L428.76,306.86 L427.09,303.05 L428.09,303.05 L429.76,306.86 L431.44,310.67 L433.1,314.48 L434.76,318.29 L436.42,322.11Z M424.19,296.51 L422.5,292.71 L420.8,288.92 L419.09,285.12 L417.38,281.33 L415.67,277.54 L416.67,277.54 L418.38,281.33 L420.09,285.12 L421.8,288.92 L423.5,292.71 L425.19,296.51Z M412.71,271.03 L410.98,267.25 L409.24,263.47 L407.5,259.69 L405.75,255.92 L403.99,252.14 L404.99,252.14 L406.75,255.92 L408.5,259.69 L410.24,263.47 L411.98,267.25 L413.71,271.03Z M400.96,245.67 L399.19,241.9 L397.42,238.14 L395.63,234.38 L393.84,230.63 L392.05,226.87 L393.05,226.87 L394.84,230.63 L396.63,234.38 L398.42,238.14 L400.19,241.9 L401.96,245.67Z M388.95,220.43 L387.14,216.69 L385.32,212.95 L383.49,209.21 L381.66,205.47 L379.82,201.74 L380.82,201.74 L382.66,205.47 L384.49,209.21 L386.32,212.95 L388.14,216.69 L389.95,220.43Z M376.65,195.33 L374.79,191.61 L372.93,187.89 L371.06,184.17 L369.19,180.46 L367.31,176.75 L368.31,176.75 L370.19,180.46 L372.06,184.17 L373.93,187.89 L375.79,191.61 L377.65,195.33Z M364.06,170.38 L362.16,166.68 L360.25,162.98 L358.34,159.29 L356.42,155.6 L354.49,151.91 L355.49,151.91 L357.42,155.6 L359.34,159.29 L361.25,162.98 L363.16,166.68 L365.06,170.38Z M351.16,145.58 L349.22,141.91 L347.26,138.23 L345.31,134.56 L343.34,130.9 L341.37,127.23 L342.37,127.23 L344.34,130.9 L346.31,134.56 L348.26,138.23 L350.22,141.91 L352.16,145.58Z M337.96,120.95 L335.97,117.3 L333.97,113.65 L331.96,110.01 L329.95,106.37 L327.92,102.73 L328.92,102.73 L330.95,106.37 L332.96,110.01 L334.97,113.65 L336.97,117.3 L338.96,120.95Z M324.43,96.49 L322.39,92.86 L320.35,89.24 L318.29,85.63 L316.23,82.01 L314.16,78.4 L315.16,78.4 L317.23,82.01 L319.29,85.63 L321.35,89.24 L323.39,92.86 L325.43,96.49Z M310.59,72.21 L308.5,68.61 L306.4,65.02 L304.3,61.43 L302.19,57.85 L300.07,54.27 L301.07,54.27 L303.19,57.85 L305.3,61.43 L307.4,65.02 L309.5,68.61 L311.59,72.21Z M627.97,768.58 L626.8,764.58 L625.64,760.59 L624.46,756.6 L623.29,752.61 L622.12,748.62 L623.12,748.62 L624.29,752.61 L625.46,756.6 L626.64,760.59 L627.8,764.58 L628.97,768.58Z M620.09,741.76 L618.91,737.77 L617.73,733.78 L616.54,729.8 L615.35,725.81 L614.17,721.82 L615.17,721.82 L616.35,725.81 L617.54,729.8 L618.73,733.78 L619.91,737.77 L621.09,741.76Z M612.12,714.97 L610.92,710.99 L609.72,707 L608.53,703.02 L607.32,699.04 L606.12,695.06 L607.12,695.06 L608.32,699.04 L609.53,703.02 L610.72,707 L611.92,710.99 L613.12,714.97Z M604.05,688.21 L602.84,684.23 L601.62,680.25 L600.41,676.27 L599.19,672.3 L597.97,668.32 L598.97,668.32 L600.19,672.3 L601.41,676.27 L602.62,680.25 L603.84,684.23 L605.05,688.21Z M595.87,661.48 L594.65,657.51 L593.42,653.53 L592.19,649.56 L590.96,645.59 L589.73,641.61 L590.73,641.61 L591.96,645.59 L593.19,649.56 L594.42,653.53 L595.65,657.51 L596.87,661.48Z M587.6,634.79 L586.36,630.82 L585.11,626.85 L583.87,622.88 L582.62,618.91 L581.37,614.94 L582.37,614.94 L583.62,618.91 L584.87,622.88 L586.11,626.85 L587.36,630.82 L588.6,634.79Z M579.21,608.13 L577.95,604.16 L576.69,600.2 L575.43,596.23 L574.17,592.27 L572.9,588.31 L573.9,588.31 L575.17,592.27 L576.43,596.23 L577.69,600.2 L578.95,604.16 L580.21,608.13Z M570.71,581.5 L569.44,577.54 L568.16,573.58 L566.88,569.62 L565.59,565.67 L564.31,561.71 L565.31,561.71 L566.59,565.67 L567.88,569.62 L569.16,573.58 L570.44,577.54 L571.71,581.5Z M562.09,554.91 L560.8,550.96 L559.5,547.01 L558.2,543.05 L556.9,539.1 L555.6,535.15 L556.6,535.15 L557.9,539.1 L559.2,543.05 L560.5,547.01 L561.8,550.96 L563.09,554.91Z M553.35,528.37 L552.03,524.42 L550.72,520.47 L549.4,516.53 L548.08,512.58 L546.75,508.64 L547.75,508.64 L549.08,512.58 L550.4,516.53 L551.72,520.47 L553.03,524.42 L554.35,528.37Z M544.47,501.86 L543.14,497.92 L541.8,493.98 L540.46,490.04 L539.12,486.11 L537.77,482.17 L538.77,482.17 L540.12,486.11 L541.46,490.04 L542.8,493.98 L544.14,497.92 L545.47,501.86Z M535.46,475.41 L534.1,471.47 L532.74,467.54 L531.38,463.61 L530.02,459.68 L528.65,455.75 L529.65,455.75 L531.02,459.68 L532.38,463.61 L533.74,467.54 L535.1,471.47 L536.46,475.41Z M526.3,449 L524.92,445.07 L523.54,441.15 L522.16,437.22 L520.77,433.3 L519.39,429.38 L520.39,429.38 L521.77,433.3 L523.16,437.22 L524.54,441.15 L525.92,445.07 L527.3,449Z M516.99,422.64 L515.59,418.73 L514.19,414.81 L512.78,410.89 L511.37,406.98 L509.96,403.07 L510.96,403.07 L512.37,406.98 L513.78,410.89 L515.19,414.81 L516.59,418.73 L517.99,422.64Z M507.52,396.35 L506.1,392.44 L504.67,388.53 L503.24,384.62 L501.81,380.72 L500.37,376.82 L501.37,376.82 L502.81,380.72 L504.24,384.62 L505.67,388.53 L507.1,392.44 L508.52,396.35Z M497.89,370.11 L496.44,366.21 L494.99,362.31 L493.53,358.41 L492.07,354.52 L490.61,350.63 L491.61,350.63 L493.07,354.52 L494.53,358.41 L495.99,362.31 L497.44,366.21 L498.89,370.11Z M488.08,343.94 L486.6,340.05 L485.13,336.16 L483.64,332.27 L482.15,328.39 L480.66,324.5 L481.66,324.5 L483.15,328.39 L484.64,332.27 L486.13,336.16 L487.6,340.05 L489.08,343.94Z M478.09,317.83 L476.58,313.96 L475.08,310.08 L473.56,306.2 L472.05,302.33 L470.53,298.46 L471.53,298.46 L473.05,302.33 L474.56,306.2 L476.08,310.08 L477.58,313.96 L479.09,317.83Z M467.9,291.81 L466.37,287.94 L464.83,284.07 L463.29,280.21 L461.74,276.35 L460.19,272.49 L461.19,272.49 L462.74,276.35 L464.29,280.21 L465.83,284.07 L467.37,287.94 L468.9,291.81Z M457.51,265.86 L455.95,262.01 L454.38,258.15 L452.8,254.3 L451.22,250.45 L449.64,246.61 L450.64,246.61 L452.22,250.45 L453.8,254.3 L455.38,258.15 L456.95,262.01 L458.51,265.86Z M446.91,240 L445.31,236.16 L443.71,232.32 L442.1,228.48 L440.49,224.65 L438.87,220.82 L439.87,220.82 L441.49,224.65 L443.1,228.48 L444.71,232.32 L446.31,236.16 L447.91,240Z M436.08,214.23 L434.44,210.41 L432.81,206.58 L431.16,202.76 L429.52,198.94 L427.86,195.12 L428.86,195.12 L430.52,198.94 L432.16,202.76 L433.81,206.58 L435.44,210.41 L437.08,214.23Z M425.01,188.57 L423.34,184.76 L421.67,180.95 L419.99,177.14 L418.3,173.34 L416.61,169.54 L417.61,169.54 L419.3,173.34 L420.99,177.14 L422.67,180.95 L424.34,184.76 L426.01,188.57Z M413.69,163.01 L411.99,159.22 L410.27,155.43 L408.56,151.64 L406.83,147.85 L405.1,144.07 L406.1,144.07 L407.83,147.85 L409.56,151.64 L411.27,155.43 L412.99,159.22 L414.69,163.01Z M402.11,137.57 L400.37,133.8 L398.62,130.02 L396.86,126.25 L395.09,122.49 L393.32,118.72 L394.32,118.72 L396.09,122.49 L397.86,126.25 L399.62,130.02 L401.37,133.8 L403.11,137.57Z M390.26,112.26 L388.47,108.5 L386.68,104.75 L384.88,101 L383.07,97.25 L381.26,93.51 L382.26,93.51 L384.07,97.25 L385.88,101 L387.68,104.75 L389.47,108.5 L391.26,112.26Z M378.12,87.08 L376.29,83.35 L374.45,79.62 L372.61,75.89 L370.75,72.17 L368.89,68.44 L369.89,68.44 L371.75,72.17 L373.61,75.89 L375.45,79.62 L377.29,83.35 L379.12,87.08Z M365.68,62.06 L363.52,57.78 L361.34,53.5 L362.34,53.5 L364.52,57.78 L366.68,62.06Z M652.9,768.58 L651.79,764.57 L650.67,760.56 L649.55,756.56 L648.43,752.55 L647.3,748.55 L648.3,748.55 L649.43,752.55 L650.55,756.56 L651.67,760.56 L652.79,764.57 L653.9,768.58Z M645.37,741.66 L644.24,737.66 L643.11,733.65 L641.98,729.65 L640.84,725.65 L639.71,721.65 L640.71,721.65 L641.84,725.65 L642.98,729.65 L644.11,733.65 L645.24,737.66 L646.37,741.66Z M637.75,714.77 L636.61,710.77 L635.47,706.77 L634.33,702.77 L633.18,698.77 L632.03,694.77 L633.03,694.77 L634.18,698.77 L635.33,702.77 L636.47,706.77 L637.61,710.77 L638.75,714.77Z M630.06,687.9 L628.91,683.9 L627.75,679.91 L626.59,675.91 L625.44,671.91 L624.28,667.92 L625.28,667.92 L626.44,671.91 L627.59,675.91 L628.75,679.91 L629.91,683.9 L631.06,687.9Z M622.28,661.05 L621.11,657.06 L619.95,653.07 L618.78,649.08 L617.6,645.08 L616.43,641.09 L617.43,641.09 L618.6,645.08 L619.78,649.08 L620.95,653.07 L622.11,657.06 L623.28,661.05Z M614.41,634.23 L613.23,630.25 L612.05,626.26 L610.87,622.27 L609.68,618.28 L608.5,614.29 L609.5,614.29 L610.68,618.28 L611.87,622.27 L613.05,626.26 L614.23,630.25 L615.41,634.23Z M606.45,607.44 L605.26,603.46 L604.06,599.47 L602.87,595.49 L601.67,591.5 L600.47,587.52 L601.47,587.52 L602.67,591.5 L603.87,595.49 L605.06,599.47 L606.26,603.46 L607.45,607.44Z M598.4,580.68 L597.19,576.7 L595.98,572.72 L594.77,568.74 L593.56,564.76 L592.34,560.78 L593.34,560.78 L594.56,564.76 L595.77,568.74 L596.98,572.72 L598.19,576.7 L599.4,580.68Z M590.24,553.94 L589.02,549.97 L587.8,545.99 L586.57,542.02 L585.34,538.04 L584.11,534.07 L585.11,534.07 L586.34,538.04 L587.57,542.02 L588.8,545.99 L590.02,549.97 L591.24,553.94Z M581.99,527.24 L580.75,523.27 L579.51,519.3 L578.27,515.33 L577.02,511.36 L575.77,507.39 L576.77,507.39 L578.02,511.36 L579.27,515.33 L580.51,519.3 L581.75,523.27 L582.99,527.24Z M573.62,500.57 L572.37,496.6 L571.11,492.64 L569.85,488.67 L568.59,484.71 L567.33,480.75 L568.33,480.75 L569.59,484.71 L570.85,488.67 L572.11,492.64 L573.37,496.6 L574.62,500.57Z M565.15,473.94 L563.88,469.98 L562.6,466.02 L561.32,462.06 L560.05,458.1 L558.76,454.14 L559.76,454.14 L561.05,458.1 L562.32,462.06 L563.6,466.02 L564.88,469.98 L566.15,473.94Z M556.55,447.34 L555.26,443.39 L553.97,439.43 L552.68,435.48 L551.38,431.53 L550.08,427.58 L551.08,427.58 L552.38,431.53 L553.68,435.48 L554.97,439.43 L556.26,443.39 L557.55,447.34Z M547.84,420.79 L546.53,416.84 L545.22,412.89 L543.9,408.94 L542.58,405 L541.26,401.05 L542.26,401.05 L543.58,405 L544.9,408.94 L546.22,412.89 L547.53,416.84 L548.84,420.79Z M538.99,394.27 L537.66,390.33 L536.33,386.39 L535,382.45 L533.66,378.51 L532.32,374.57 L533.32,374.57 L534.66,378.51 L536,382.45 L537.33,386.39 L538.66,390.33 L539.99,394.27Z M530.01,367.81 L528.66,363.87 L527.31,359.94 L525.95,356 L524.59,352.07 L523.23,348.14 L524.23,348.14 L525.59,352.07 L526.95,356 L528.31,359.94 L529.66,363.87 L531.01,367.81Z M520.88,341.39 L519.51,337.46 L518.14,333.53 L516.76,329.61 L515.38,325.68 L514,321.76 L515,321.76 L516.38,325.68 L517.76,329.61 L519.14,333.53 L520.51,337.46 L521.88,341.39Z M511.61,315.02 L510.22,311.1 L508.82,307.18 L507.42,303.26 L506.02,299.35 L504.61,295.43 L505.61,295.43 L507.02,299.35 L508.42,303.26 L509.82,307.18 L511.22,311.1 L512.61,315.02Z M502.18,288.71 L500.76,284.8 L499.34,280.89 L497.92,276.98 L496.49,273.07 L495.06,269.17 L496.06,269.17 L497.49,273.07 L498.92,276.98 L500.34,280.89 L501.76,284.8 L503.18,288.71Z M492.59,262.46 L491.14,258.55 L489.7,254.65 L488.25,250.75 L486.79,246.86 L485.34,242.96 L486.34,242.96 L487.79,246.86 L489.25,250.75 L490.7,254.65 L492.14,258.55 L493.59,262.46Z M482.82,236.27 L481.35,232.38 L479.88,228.49 L478.4,224.6 L476.92,220.71 L475.43,216.82 L476.43,216.82 L477.92,220.71 L479.4,224.6 L480.88,228.49 L482.35,232.38 L483.82,236.27Z M472.87,210.15 L471.37,206.27 L469.87,202.39 L468.36,198.51 L466.85,194.64 L465.34,190.76 L466.34,190.76 L467.85,194.64 L469.36,198.51 L470.87,202.39 L472.37,206.27 L473.87,210.15Z M462.72,184.11 L461.2,180.24 L459.67,176.37 L458.13,172.5 L456.59,168.64 L455.04,164.78 L456.04,164.78 L457.59,168.64 L459.13,172.5 L460.67,176.37 L462.2,180.24 L463.72,184.11Z M452.38,158.14 L450.82,154.28 L449.26,150.43 L447.69,146.58 L446.12,142.72 L444.54,138.88 L445.54,138.88 L447.12,142.72 L448.69,146.58 L450.26,150.43 L451.82,154.28 L453.38,158.14Z M441.82,132.26 L440.23,128.42 L438.63,124.58 L437.03,120.74 L435.42,116.9 L433.81,113.07 L434.81,113.07 L436.42,116.9 L438.03,120.74 L439.63,124.58 L441.23,128.42 L442.82,132.26Z M431.03,106.48 L429.4,102.65 L427.77,98.82 L426.14,95 L424.49,91.18 L422.85,87.36 L423.85,87.36 L425.49,91.18 L427.14,95 L428.77,98.82 L430.4,102.65 L432.03,106.48Z M420,80.8 L418.34,76.98 L416.67,73.17 L415,69.36 L413.32,65.56 L411.63,61.75 L412.63,61.75 L414.32,65.56 L416,69.36 L417.67,73.17 L419.34,76.98 L421,80.8Z M408.72,55.22 L407.95,53.5 L408.95,53.5 L409.72,55.22Z M673.7,768.58 L672.62,764.56 L671.54,760.54 L670.45,756.53 L669.37,752.51 L668.28,748.49 L669.28,748.49 L670.37,752.51 L671.45,756.53 L672.54,760.54 L673.62,764.56 L674.7,768.58Z M666.41,741.59 L665.32,737.58 L664.23,733.56 L663.14,729.55 L662.05,725.54 L660.95,721.52 L661.95,721.52 L663.05,725.54 L664.14,729.55 L665.23,733.56 L666.32,737.58 L667.41,741.59Z M659.06,714.63 L657.97,710.61 L656.86,706.6 L655.76,702.59 L654.66,698.58 L653.55,694.57 L654.55,694.57 L655.66,698.58 L656.76,702.59 L657.86,706.6 L658.97,710.61 L660.06,714.63Z M651.65,687.68 L650.53,683.67 L649.42,679.66 L648.31,675.65 L647.19,671.64 L646.08,667.64 L647.08,667.64 L648.19,671.64 L649.31,675.65 L650.42,679.66 L651.53,683.67 L652.65,687.68Z M644.15,660.75 L643.03,656.75 L641.91,652.74 L640.78,648.73 L639.66,644.73 L638.53,640.73 L639.53,640.73 L640.66,644.73 L641.78,648.73 L642.91,652.74 L644.03,656.75 L645.15,660.75Z M636.59,633.85 L635.45,629.84 L634.32,625.84 L633.18,621.84 L632.04,617.84 L630.9,613.84 L631.9,613.84 L633.04,617.84 L634.18,621.84 L635.32,625.84 L636.45,629.84 L637.59,633.85Z M628.94,606.96 L627.79,602.96 L626.65,598.96 L625.5,594.96 L624.35,590.97 L623.2,586.97 L624.2,586.97 L625.35,590.97 L626.5,594.96 L627.65,598.96 L628.79,602.96 L629.94,606.96Z M621.21,580.1 L620.05,576.1 L618.9,572.11 L617.73,568.11 L616.57,564.12 L615.41,560.13 L616.41,560.13 L617.57,564.12 L618.73,568.11 L619.9,572.11 L621.05,576.1 L622.21,580.1Z M613.4,553.26 L612.23,549.27 L611.06,545.28 L609.88,541.29 L608.71,537.3 L607.53,533.31 L608.53,533.31 L609.71,537.3 L610.88,541.29 L612.06,545.28 L613.23,549.27 L614.4,553.26Z M605.5,526.45 L604.32,522.47 L603.13,518.48 L601.94,514.49 L600.76,510.51 L599.56,506.52 L600.56,506.52 L601.76,510.51 L602.94,514.49 L604.13,518.48 L605.32,522.47 L606.5,526.45Z M597.51,499.67 L596.31,495.69 L595.11,491.7 L593.91,487.72 L592.71,483.74 L591.5,479.76 L592.5,479.76 L593.71,483.74 L594.91,487.72 L596.11,491.7 L597.31,495.69 L598.51,499.67Z M589.42,472.92 L588.21,468.94 L587,464.96 L585.78,460.98 L584.56,457 L583.34,453.02 L584.34,453.02 L585.56,457 L586.78,460.98 L588,464.96 L589.21,468.94 L590.42,472.92Z M581.24,446.19 L580.01,442.22 L578.78,438.24 L577.55,434.27 L576.32,430.3 L575.08,426.32 L576.08,426.32 L577.32,430.3 L578.55,434.27 L579.78,438.24 L581.01,442.22 L582.24,446.19Z M572.95,419.5 L571.71,415.53 L570.46,411.56 L569.22,407.59 L567.97,403.62 L566.71,399.66 L567.71,399.66 L568.97,403.62 L570.22,407.59 L571.46,411.56 L572.71,415.53 L573.95,419.5Z M564.56,392.84 L563.3,388.87 L562.03,384.91 L560.77,380.95 L559.5,376.98 L558.23,373.02 L559.23,373.02 L560.5,376.98 L561.77,380.95 L563.03,384.91 L564.3,388.87 L565.56,392.84Z M556.05,366.22 L554.77,362.26 L553.49,358.3 L552.21,354.34 L550.92,350.38 L549.64,346.43 L550.64,346.43 L551.92,350.38 L553.21,354.34 L554.49,358.3 L555.77,362.26 L557.05,366.22Z M547.42,339.63 L546.12,335.68 L544.83,331.72 L543.53,327.77 L542.22,323.82 L540.92,319.87 L541.92,319.87 L543.22,323.82 L544.53,327.77 L545.83,331.72 L547.12,335.68 L548.42,339.63Z M538.67,313.09 L537.35,309.14 L536.04,305.19 L534.72,301.25 L533.4,297.3 L532.07,293.36 L533.07,293.36 L534.4,297.3 L535.72,301.25 L537.04,305.19 L538.35,309.14 L539.67,313.09Z M529.79,286.58 L528.45,282.64 L527.12,278.7 L525.78,274.77 L524.44,270.83 L523.09,266.89 L524.09,266.89 L525.44,270.83 L526.78,274.77 L528.12,278.7 L529.45,282.64 L530.79,286.58Z M520.77,260.13 L519.42,256.2 L518.06,252.26 L516.7,248.33 L515.34,244.4 L513.97,240.47 L514.97,240.47 L516.34,244.4 L517.7,248.33 L519.06,252.26 L520.42,256.2 L521.77,260.13Z M511.61,233.72 L510.23,229.8 L508.86,225.87 L507.47,221.95 L506.09,218.03 L504.7,214.11 L505.7,214.11 L507.09,218.03 L508.47,221.95 L509.86,225.87 L511.23,229.8 L512.61,233.72Z M502.3,207.37 L500.9,203.45 L499.5,199.53 L498.09,195.62 L496.68,191.71 L495.27,187.79 L496.27,187.79 L497.68,191.71 L499.09,195.62 L500.5,199.53 L501.9,203.45 L503.3,207.37Z M492.83,181.07 L491.41,177.16 L489.98,173.25 L488.55,169.35 L487.12,165.44 L485.68,161.54 L486.68,161.54 L488.12,165.44 L489.55,169.35 L490.98,173.25 L492.41,177.16 L493.83,181.07Z M483.2,154.83 L481.75,150.94 L480.3,147.04 L478.84,143.14 L477.38,139.25 L475.91,135.35 L476.91,135.35 L478.38,139.25 L479.84,143.14 L481.3,147.04 L482.75,150.94 L484.2,154.83Z M473.39,128.66 L471.91,124.77 L470.43,120.89 L468.95,117 L467.46,113.11 L465.97,109.23 L466.97,109.23 L468.46,113.11 L469.95,117 L471.43,120.89 L472.91,124.77 L474.39,128.66Z M463.39,102.56 L461.89,98.68 L460.38,94.81 L458.86,90.93 L457.35,87.06 L455.82,83.19 L456.82,83.19 L458.35,87.06 L459.86,90.93 L461.38,94.81 L462.89,98.68 L464.39,102.56Z M453.2,76.54 L451.66,72.67 L450.12,68.81 L448.58,64.94 L447.03,61.08 L445.48,57.22 L446.48,57.22 L448.03,61.08 L449.58,64.94 L451.12,68.81 L452.66,72.67 L454.2,76.54Z"/><path fill="#a020f0" stroke="none" d="M114.94,768.58 L113.24,748.22 L111.5,727.5 L109.72,706.41 L107.9,684.93 L106.04,663.04 L104.12,640.73 L102.16,617.96 L100.15,594.73 L98.08,571.01 L95.96,546.76 L93.77,521.97 L91.52,496.6 L89.2,470.62 L86.81,443.99 L84.33,416.67 L81.77,388.62 L79.12,359.79 L76.37,330.13 L73.52,299.56 L70.55,268.03 L67.45,235.46 L64.22,201.77 L60.83,166.84 L57.28,130.58 L53.55,92.85 L49.61,53.5 L50.61,53.5 L54.55,92.85 L58.28,130.58 L61.83,166.84 L65.22,201.77 L68.45,235.46 L71.55,268.03 L74.52,299.56 L77.37,330.13 L80.12,359.79 L82.77,388.62 L85.33,416.67 L87.81,443.99 L90.2,470.62 L92.52,496.6 L94.77,521.97 L96.96,546.76 L99.08,571.01 L101.15,594.73 L103.16,617.96 L105.12,640.73 L107.04,663.04 L108.9,684.93 L110.72,706.41 L112.5,727.5 L114.24,748.22 L115.94,768.58Z M220.12,768.58 L218.17,748.22 L216.18,727.5 L214.14,706.41 L212.06,684.93 L209.93,663.04 L207.74,640.73 L205.5,617.96 L203.2,594.73 L200.84,571.01 L198.41,546.76 L195.91,521.97 L193.34,496.6 L190.69,470.62 L187.96,443.99 L185.14,416.67 L182.22,388.62 L179.19,359.79 L176.06,330.13 L172.8,299.56 L169.42,268.03 L165.89,235.46 L162.21,201.77 L158.35,166.84 L154.31,130.58 L150.06,92.85 L145.58,53.5 L146.58,53.5 L151.06,92.85 L155.31,130.58 L159.35,166.84 L163.21,201.77 L166.89,235.46 L170.42,268.03 L173.8,299.56 L177.06,330.13 L180.19,359.79 L183.22,388.62 L186.14,416.67 L188.96,443.99 L191.69,470.62 L194.34,496.6 L196.91,521.97 L199.41,546.76 L201.84,571.01 L204.2,594.73 L206.5,617.96 L208.74,640.73 L210.93,663.04 L213.06,684.93 L215.14,706.41 L217.18,727.5 L219.17,748.22 L221.12,768.58Z M298.01,768.58 L295.87,748.22 L293.69,727.5 L291.45,706.41 L289.16,684.93 L286.82,663.04 L284.42,640.73 L281.96,617.96 L279.43,594.73 L276.84,571.01 L274.18,546.76 L271.44,521.97 L268.62,496.6 L265.71,470.62 L262.71,443.99 L259.61,416.67 L256.41,388.62 L253.1,359.79 L249.66,330.13 L246.09,299.56 L242.39,268.03 L238.52,235.46 L234.49,201.77 L230.27,166.84 L225.84,130.58 L221.19,92.85 L216.28,53.5 L217.28,53.5 L222.19,92.85 L226.84,130.58 L231.27,166.84 L235.49,201.77 L239.52,235.46 L243.39,268.03 L247.09,299.56 L250.66,330.13 L254.1,359.79 L257.41,388.62 L260.61,416.67 L263.71,443.99 L266.71,470.62 L269.62,496.6 L272.44,521.97 L275.18,546.76 L277.84,571.01 L280.43,594.73 L282.96,617.96 L285.42,640.73 L287.82,663.04 L290.16,684.93 L292.45,706.41 L294.69,727.5 L296.87,748.22 L299.01,768.58Z M362.04,768.58 L359.73,748.22 L357.38,727.5 L354.97,706.41 L352.51,684.93 L349.99,663.04 L347.4,640.73 L344.75,617.96 L342.04,594.73 L339.25,571.01 L336.38,546.76 L333.43,521.97 L330.4,496.6 L327.27,470.62 L324.04,443.99 L320.71,416.67 L317.27,388.62 L313.71,359.79 L310.02,330.13 L306.18,299.56 L302.2,268.03 L298.04,235.46 L293.71,201.77 L289.18,166.84 L284.43,130.58 L279.43,92.85 L274.17,53.5 L275.17,53.5 L280.43,92.85 L285.43,130.58 L290.18,166.84 L294.71,201.77 L299.04,235.46 L303.2,268.03 L307.18,299.56 L311.02,330.13 L314.71,359.79 L318.27,388.62 L321.71,416.67 L325.04,443.99 L328.27,470.62 L331.4,496.6 L334.43,521.97 L337.38,546.76 L340.25,571.01 L343.04,594.73 L345.75,617.96 L348.4,640.73 L350.99,663.04 L353.51,684.93 L355.97,706.41 L358.38,727.5 L360.73,748.22 L363.04,768.58Z M430.94,768.58 L428.45,748.22 L425.91,727.5 L423.31,706.41 L420.65,684.93 L417.93,663.04 L415.14,640.73 L412.28,617.96 L409.34,594.73 L406.33,571.01 L403.24,546.76 L400.06,521.97 L396.79,496.6 L393.41,470.62 L389.94,443.99 L386.35,416.67 L382.64,388.62 L378.8,359.79 L374.82,330.13 L370.69,299.56 L366.39,268.03 L361.92,235.46 L357.25,201.77 L352.38,166.84 L347.26,130.58 L341.89,92.85 L336.22,53.5 L337.22,53.5 L342.89,92.85 L348.26,130.58 L353.38,166.84 L358.25,201.77 L362.92,235.46 L367.39,268.03 L371.69,299.56 L375.82,330.13 L379.8,359.79 L383.64,388.62 L387.35,416.67 L390.94,443.99 L394.41,470.62 L397.79,496.6 L401.06,521.97 L404.24,546.76 L407.33,571.01 L410.34,594.73 L413.28,617.96 L416.14,640.73 L418.93,663.04 L421.65,684.93 L424.31,706.41 L426.91,727.5 L429.45,748.22 L431.94,768.58Z M490.39,768.58 L487.74,748.22 L485.03,727.5 L482.26,706.41 L479.43,684.93 L476.52,663.04 L473.55,640.73 L470.5,617.96 L467.38,594.73 L464.17,571.01 L460.88,546.76 L457.49,521.97 L454,496.6 L450.41,470.62 L446.71,443.99 L442.89,416.67 L438.94,388.62 L434.85,359.79 L430.62,330.13 L426.22,299.56 L421.65,268.03 L416.9,235.46 L411.93,201.77 L406.75,166.84 L401.31,130.58 L395.6,92.85 L389.58,53.5 L390.58,53.5 L396.6,92.85 L402.31,130.58 L407.75,166.84 L412.93,201.77 L417.9,235.46 L422.65,268.03 L427.22,299.56 L431.62,330.13 L435.85,359.79 L439.94,388.62 L443.89,416.67 L447.71,443.99 L451.41,470.62 L455,496.6 L458.49,521.97 L461.88,546.76 L465.17,571.01 L468.38,594.73 L471.5,617.96 L474.55,640.73 L477.52,663.04 L480.43,684.93 L483.26,706.41 L486.03,727.5 L488.74,748.22 L491.39,768.58Z M530.16,768.58 L527.39,748.22 L524.57,727.5 L521.68,706.41 L518.72,684.93 L515.7,663.04 L512.6,640.73 L509.42,617.96 L506.17,594.73 L502.83,571.01 L499.39,546.76 L495.86,521.97 L492.23,496.6 L488.49,470.62 L484.63,443.99 L480.65,416.67 L476.54,388.62 L472.28,359.79 L467.87,330.13 L463.3,299.56 L458.54,268.03 L453.59,235.46 L448.42,201.77 L443.02,166.84 L437.36,130.58 L431.42,92.85 L425.16,53.5 L426.16,53.5 L432.42,92.85 L438.36,130.58 L444.02,166.84 L449.42,201.77 L454.59,235.46 L459.54,268.03 L464.3,299.56 L468.87,330.13 L473.28,359.79 L477.54,388.62 L481.65,416.67 L485.63,443.99 L489.49,470.62 L493.23,496.6 L496.86,521.97 L500.39,546.76 L503.83,571.01 L507.17,594.73 L510.42,617.96 L513.6,640.73 L516.7,663.04 L519.72,684.93 L522.68,706.41 L525.57,727.5 L528.39,748.22 L531.16,768.58Z M584.8,768.58 L581.88,748.22 L578.89,727.5 L575.84,706.41 L572.71,684.93 L569.51,663.04 L566.24,640.73 L562.88,617.96 L559.44,594.73 L555.91,571.01 L552.28,546.76 L548.55,521.97 L544.71,496.6 L540.76,470.62 L536.69,443.99 L532.48,416.67 L528.14,388.62 L523.64,359.79 L518.99,330.13 L514.16,299.56 L509.14,268.03 L503.91,235.46 L498.46,201.77 L492.77,166.84 L486.8,130.58 L480.53,92.85 L473.92,53.5 L474.92,53.5 L481.53,92.85 L487.8,130.58 L493.77,166.84 L499.46,201.77 L504.91,235.46 L510.14,268.03 L515.16,299.56 L519.99,330.13 L524.64,359.79 L529.14,388.62 L533.48,416.67 L537.69,443.99 L541.76,470.62 L545.71,496.6 L549.55,521.97 L553.28,546.76 L556.91,571.01 L560.44,594.73 L563.88,617.96 L567.24,640.73 L570.51,663.04 L573.71,684.93 L576.84,706.41 L579.89,727.5 L582.88,748.22 L585.8,768.58Z M633.95,768.58 L630.88,748.22 L627.74,727.5 L624.53,706.41 L621.25,684.93 L617.89,663.04 L614.45,640.73 L610.93,617.96 L607.32,594.73 L603.61,571.01 L599.8,546.76 L595.89,521.97 L591.86,496.6 L587.72,470.62 L583.44,443.99 L579.03,416.67 L574.48,388.62 L569.76,359.79 L564.88,330.13 L559.82,299.56 L554.55,268.03 L549.08,235.46 L543.36,201.77 L537.39,166.84 L531.14,130.58 L524.57,92.85 L517.65,53.5 L518.65,53.5 L525.57,92.85 L532.14,130.58 L538.39,166.84 L544.36,201.77 L550.08,235.46 L555.55,268.03 L560.82,299.56 L565.88,330.13 L570.76,359.79 L575.48,388.62 L580.03,416.67 L584.44,443.99 L588.72,470.62 L592.86,496.6 L596.89,521.97 L600.8,546.76 L604.61,571.01 L608.32,594.73 L611.93,617.96 L615.45,640.73 L618.89,663.04 L622.25,684.93 L625.53,706.41 L628.74,727.5 L631.88,748.22 L634.95,768.58Z M669.87,768.58 L666.68,748.22 L663.43,727.5 L660.11,706.41 L656.71,684.93 L653.24,663.04 L649.68,640.73 L646.03,617.96 L642.29,594.73 L638.45,571.01 L634.51,546.76 L630.46,521.97 L626.29,496.6 L622,470.62 L617.58,443.99 L613.01,416.67 L608.3,388.62 L603.42,359.79 L598.37,330.13 L593.13,299.56 L587.69,268.03 L582.03,235.46 L576.12,201.77 L569.94,166.84 L563.48,130.58 L556.69,92.85 L549.54,53.5 L550.54,53.5 L557.69,92.85 L564.48,130.58 L570.94,166.84 L577.12,201.77 L583.03,235.46 L588.69,268.03 L594.13,299.56 L599.37,330.13 L604.42,359.79 L609.3,388.62 L614.01,416.67 L618.58,443.99 L623,470.62 L627.29,496.6 L631.46,521.97 L635.51,546.76 L639.45,571.01 L643.29,594.73 L647.03,617.96 L650.68,640.73 L654.24,663.04 L657.71,684.93 L661.11,706.41 L664.43,727.5 L667.68,748.22 L670.87,768.58Z M698.26,768.58 L694.99,748.22 L691.65,727.5 L688.23,706.41 L684.74,684.93 L681.17,663.04 L677.51,640.73 L673.76,617.96 L669.92,594.73 L665.98,571.01 L661.93,546.76 L657.77,521.97 L653.49,496.6 L649.08,470.62 L644.54,443.99 L639.85,416.67 L635.01,388.62 L630,359.79 L624.82,330.13 L619.44,299.56 L613.85,268.03 L608.04,235.46 L601.97,201.77 L595.64,166.84 L589,130.58 L582.03,92.85 L574.69,53.5 L575.69,53.5 L583.03,92.85 L590,130.58 L596.64,166.84 L602.97,201.77 L609.04,235.46 L614.85,268.03 L620.44,299.56 L625.82,330.13 L631,359.79 L636.01,388.62 L640.85,416.67 L645.54,443.99 L650.08,470.62 L654.49,496.6 L658.77,521.97 L662.93,546.76 L666.98,571.01 L670.92,594.73 L674.76,617.96 L678.51,640.73 L682.17,663.04 L685.74,684.93 L689.23,706.41 L692.65,727.5 L695.99,748.22 L699.26,768.58Z"/></g><path fill="none" stroke="#0000ff" stroke-width="3" stroke-linejoin="round" shape-rendering="crispEdges" d="M99.75,123.5 L78.4,202 L242,270.8 L351.5,329.3 L380.6,374.4 L384.4,380 L388,400 L390,412 L393,425 L402,442 L410,460 L413,474 L417,492 L419,512 L419,528 L418,544 L417,558 L414.9,576.25 L414.9,602.5 L417.5,613 L424.5,623.5 L435,632.25 L445.5,641 L452.5,651.5 L460.4,667.25 L461.25,671.6 L468.25,672.5"/><path fill="none" stroke="#ff0000" stroke-width="3" stroke-linejoin="round" shape-rendering="crispEdges" d="M298.1,123 L299.6,124 L347,202 L361.9,230 L373.25,249.25 L385.5,273.75 L397.75,300 L406.5,320 L414.6,336.25 L422.75,352.5 L432.5,367.1 L442.25,383.4 L447.5,393 L453.5,402.5 L460.25,414.5 L466.25,425 L472.25,434.75 L476,444.5 L482,453.5 L485.5,459.5 L497,476.75 L507.5,489.5 L519.5,504.5 L533,524 L543.5,542 L552.5,557 L565,580 L573.25,593.75 L578.75,606.1 L580.8,613 L580.8,623.3 L576,630.9 L569.1,639.1 L558.1,651.5 L551.25,659.1 L549.2,663.9 L549.2,670.75 L543,671.4 L530.6,673.5 L527.9,673.5"/><path fill="none" stroke="#000" stroke-width="2" stroke-linecap="butt" shape-rendering="crispEdges" d="M810.7,124.5 L773.3,130 L768,120.3 M779.3,128.7 L774,118.3 M785.3,127.6 L780,117.3 M791.3,126.6 L786,116.3 M810.7,202.3 L773.3,206 L769,195 M779.3,205.4 L775,195 M785.3,204.8 L781,193.5 M791.3,204.2 L789,198.5 M810.7,271.3 L773.3,276 L768.5,264 M779.3,275.2 L774.5,263 M785.3,274.5 L783,268.5 M810.7,329.2 L773.3,331.7 L769,321 M779.3,331.3 L775,320 M810.7,381.3 L773.3,383.2 L769,373 M779.3,382.9 L775,372 M810.6,424.8 L773.3,424.8 L770.3,414 M779.7,424.8 L778.3,419 M810.6,462 L777,449.4 L777.4,436.5 M810.6,495 L778,481 L778.3,467.5 M783,483.2 L783.3,475.5 M810.6,523 L778,509.7 L778,496.5 M782,511.5 L782.5,504.5 M810.6,547 L775.8,536.4 L775.8,524.2 M810.6,585.8 L774.7,594 M781.7,592.5 L778.3,586.7 M810.4,611.3 L793,643.4 M795,637.2 L788.5,637.2 M810,631.75 L836.9,655.75 L834.6,664.5 M810,653.1 L835.5,664.5 M842.5,665 L842.5,679.5 M810,673 L845.5,664 L852.3,674"/><g font-family="Liberation Mono" font-weight="bold" font-size="13" letter-spacing="-0.8" fill="#000" stroke="#000" stroke-width="0.3"><text x="227" y="11" text-anchor="start">WRF-GFS 4/3-km, 00Z 20Jul22 09-hr Valid 09Z 20Jul22 St Maries ID</text><text x="46" y="26" text-anchor="start">220720/0900 99999  KS72    CAPE:     0 LIFT:     8 KINX:    19 CINS:     0 LFCV: -9999</text><text x="19" y="56" text-anchor="start">400</text><text x="19" y="204" text-anchor="start">500</text><text x="19" y="333" text-anchor="start">600</text><text x="19" y="447" text-anchor="start">700</text><text x="19" y="549" text-anchor="start">800</text><text x="19" y="643" text-anchor="start">900</text><text x="12" y="730" text-anchor="start">1000</text><text x="37.8" y="787" text-anchor="start">-50</text><text x="112.36" y="787" text-anchor="start">-40</text><text x="186.91" y="787" text-anchor="start">-30</text><text x="261.47" y="787" text-anchor="start">-20</text><text x="336.02" y="787" text-anchor="start">-10</text><text x="417.58" y="787" text-anchor="start">0</text><text x="488.63" y="787" text-anchor="start">10</text><text x="563.19" y="787" text-anchor="start">20</text><text x="637.74" y="787" text-anchor="start">30</text><text x="712.3" y="787" text-anchor="start">40</text></g></svg></body></html>
